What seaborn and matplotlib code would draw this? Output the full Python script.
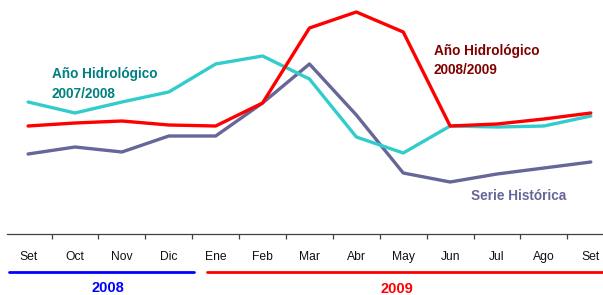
import matplotlib
matplotlib.use("Agg")
import matplotlib.pyplot as plt
import matplotlib.transforms as mtransforms
import seaborn as sns
import pandas as pd
import numpy as np

months = ["Set", "Oct", "Nov", "Dic", "Ene", "Feb", "Mar", "Abr", "May", "Jun", "Jul", "Ago", "Set"]
teal_0708 = [132, 121, 132, 142, 170, 178, 155, 97, 81, 108, 107, 108, 118]
red_0809 = [108, 111, 113, 109, 108, 131, 206, 222, 202, 108, 110, 115, 121]
serie_hist = [80, 87, 82, 98, 98, 131, 170, 119, 61, 52, 60, 66, 72]
series_names = ["Año Hidrológico 2007/2008", "Año Hidrológico 2008/2009", "Serie Histórica"]
years = ["2008", "2009"]

sns.set_theme(style="white")
plt.rcParams["font.family"] = ["Liberation Sans", "DejaVu Sans"]

rows = []
for name, vals in zip(series_names, [teal_0708, red_0809, serie_hist]):
    for i, v in enumerate(vals):
        rows.append({"idx": i, "value": v, "series": name})
df = pd.DataFrame(rows)
palette = {series_names[0]: "#33CCCC", series_names[1]: "#FF0000", series_names[2]: "#666699"}

fig = plt.figure(figsize=(6.03, 2.95), dpi=100)
ax = fig.add_axes([7 / 603, 61 / 295, 596 / 603, 234 / 295])
sns.lineplot(data=df, x="idx", y="value", hue="series", palette=palette,
             hue_order=[series_names[2], series_names[0], series_names[1]],
             linewidth=2.4, legend=False, ax=ax, sort=False)

ax.set_xlim(-0.45, 12.26)
ax.set_ylim(0, 234)
for s in ["top", "left", "right"]:
    ax.spines[s].set_visible(False)
ax.spines["bottom"].set_color("#404040")
ax.spines["bottom"].set_linewidth(0.9)
ax.set_yticks([])
ax.set_xlabel("")
ax.set_ylabel("")
ax.set_xticks(range(len(months)))
ax.set_xticklabels(months, fontsize=8.7, color="#111111")
ax.tick_params(axis="x", which="major", length=0, pad=12)
ax.set_xticks(np.arange(len(months) - 1) + 0.5, minor=True)
ax.tick_params(axis="x", which="minor", bottom=True, length=3.5, width=0.9,
               color="#404040", direction="out")

# series labels
ax.text(0.5, 150, "Año Hidrológico\n2007/2008", color="#008080", fontsize=9.8,
        fontweight="bold", ha="left", va="center", linespacing=1.5)
ax.text(8.65, 173.5, "Año Hidrológico\n2008/2009", color="#800000", fontsize=9.8,
        fontweight="bold", ha="left", va="center", linespacing=1.5)
ax.text(9.45, 38, "Serie Histórica", color="#666699", fontsize=9.8,
        fontweight="bold", ha="left", va="center")

# year brackets
trans = mtransforms.blended_transform_factory(ax.transData, ax.transAxes)
ax.plot([-0.4, 3.54], [-0.162, -0.162], color="#0000FF", lw=2.0, transform=trans, clip_on=False)
ax.plot([3.82, 12.26], [-0.162, -0.162], color="#FF0000", lw=2.0, transform=trans, clip_on=False)
ax.text(1.7, -0.23, years[0], color="#0000FF", fontsize=10.5, fontweight="bold",
        ha="center", va="center", transform=trans)
ax.text(7.87, -0.235, years[1], color="#FF0000", fontsize=10.5, fontweight="bold",
        ha="center", va="center", transform=trans)

fig.savefig("out.png", dpi=100)
